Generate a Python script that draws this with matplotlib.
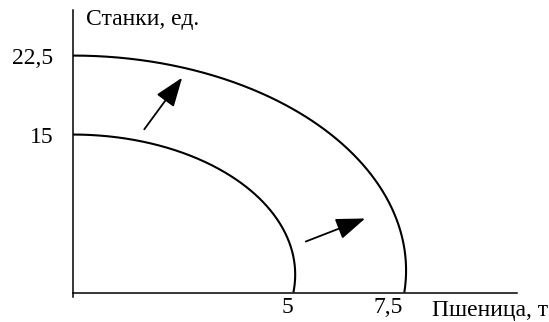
import numpy as np
import matplotlib.pyplot as plt
from matplotlib.patches import FancyArrowPatch

plt.rcParams['font.family'] = ['Liberation Serif', 'DejaVu Serif']

# параметры кривых
curve_top = [15, 22.5]          # Станки, ед. при нулевой пшенице
curve_right = [5.05, 7.57]      # наибольшая абсцисса кривой
curve_bulge_y = [1.7, 2.1]      # высота, на которой кривая дальше всего вправо

# стрелки сдвига (начало, конец)
arrow_starts = [(1.62, 15.5), (5.29, 4.84)]
arrow_ends = [(2.48, 20.4), (6.64, 7.03)]

x_ticks = [5, 7.5]
x_tick_labels = ['5', '7,5']
y_ticks = [15, 22.5]
y_tick_labels = ['15', '22,5']

fig = plt.figure(figsize=(5.49, 3.22), dpi=100)
W, H = 549, 322
sx, sy = 44.0, 10.53
ax = fig.add_axes([73 / W, (H - 297) / H, (517 - 73) / W, (297 - 10) / H])

ax.set_xlim(0, (517 - 73) / sx)
ax.set_ylim(-4.5 / sy, 282.5 / sy)

# дуги эллипсов с центром чуть выше оси абсцисс
for top, a, c in zip(curve_top, curve_right, curve_bulge_y):
    b = top - c
    t = np.linspace(0, np.arccos(-c / b), 300)
    ax.plot(a * np.sin(t), c + b * np.cos(t), color='black', lw=1.5,
            clip_on=False, solid_capstyle='butt')

for (x0, y0), (x1, y1) in zip(arrow_starts, arrow_ends):
    arr = FancyArrowPatch((x0, y0), (x1, y1),
                          arrowstyle='-|>,head_length=0.9,head_width=0.33',
                          mutation_scale=20, color='black', lw=1.3,
                          shrinkA=0, shrinkB=0)
    ax.add_patch(arr)

for side in ['top', 'right']:
    ax.spines[side].set_visible(False)
ax.spines['bottom'].set_position(('data', 0))
ax.spines['left'].set_linewidth(1.1)
ax.spines['bottom'].set_linewidth(1.1)

fs = 17
ax.set_xticks(x_ticks)
ax.set_xticklabels(x_tick_labels, fontsize=fs, ha='right')
ax.set_yticks(y_ticks)
ax.set_yticklabels(y_tick_labels, fontsize=fs)
ax.tick_params(axis='x', length=0, pad=3)
ax.tick_params(axis='y', length=0, pad=14)

ax.text(0.3, 25.9, 'Станки, ед.', fontsize=fs, va='center', ha='left')
ax.text(8.16, -1.7, 'Пшеница, т', fontsize=fs, va='center', ha='left',
        clip_on=False)

fig.savefig('out.png', dpi=100)
